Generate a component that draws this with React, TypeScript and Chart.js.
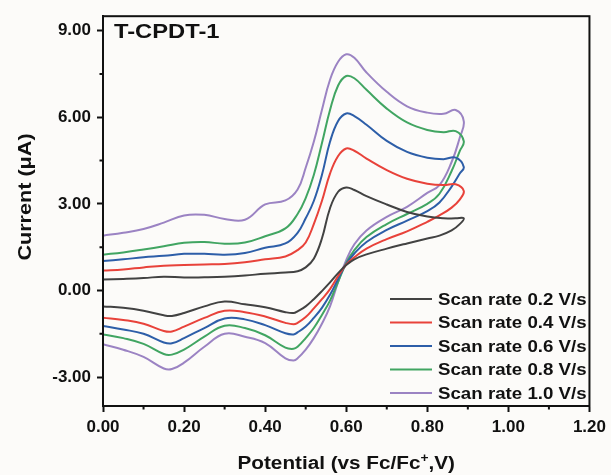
import React, { useEffect, useRef } from "react";
import { Chart, registerables } from "chart.js";

Chart.register(...registerables);

// Potentials (V vs Fc/Fc+) of the forward (anodic) and reverse (cathodic) sweeps
const forwardPotential = [0, 0.05, 0.1, 0.15, 0.2, 0.25, 0.3, 0.35, 0.4, 0.45, 0.48, 0.5, 0.52, 0.54, 0.56, 0.58, 0.6, 0.62, 0.65, 0.7, 0.75, 0.8, 0.84, 0.87, 0.89];
const reversePotential = [0.88, 0.86, 0.83, 0.8, 0.75, 0.7, 0.65, 0.62, 0.6, 0.58, 0.56, 0.54, 0.52, 0.5, 0.48, 0.47, 0.45, 0.4, 0.35, 0.3, 0.25, 0.2, 0.17, 0.15, 0.1, 0.05, 0];

// Currents (µA)
const rate02Forward = [0.38, 0.4, 0.43, 0.48, 0.45, 0.46, 0.48, 0.52, 0.58, 0.62, 0.67, 0.8, 1.1, 1.8, 2.85, 3.42, 3.57, 3.48, 3.27, 2.98, 2.72, 2.56, 2.5, 2.5, 2.5];
const rate02Reverse = [2.3, 2.08, 1.9, 1.8, 1.63, 1.45, 1.25, 1.08, 0.88, 0.6, 0.28, -0.02, -0.3, -0.55, -0.72, -0.78, -0.75, -0.58, -0.48, -0.38, -0.55, -0.78, -0.88, -0.86, -0.7, -0.6, -0.55];

const rate04Forward = [0.69, 0.73, 0.8, 0.86, 0.88, 0.9, 0.92, 0.98, 1.08, 1.18, 1.4, 1.66, 2.3, 3.1, 4.05, 4.66, 4.92, 4.84, 4.57, 4.17, 3.87, 3.7, 3.65, 3.68, 3.45];
const rate04Reverse = [3.15, 2.87, 2.6, 2.38, 2.05, 1.78, 1.45, 1.15, 0.9, 0.5, 0.05, -0.3, -0.62, -0.92, -1.12, -1.17, -1.12, -0.9, -0.75, -0.7, -0.95, -1.25, -1.42, -1.4, -1.15, -1.02, -0.94];

const rate06Forward = [1.02, 1.08, 1.15, 1.2, 1.27, 1.27, 1.24, 1.3, 1.48, 1.63, 2.0, 2.5, 3.1, 4.0, 5.15, 5.87, 6.13, 6.04, 5.74, 5.18, 4.8, 4.6, 4.55, 4.6, 4.28];
const rate06Reverse = [4.05, 3.6, 3.05, 2.75, 2.42, 2.1, 1.68, 1.28, 0.92, 0.4, -0.15, -0.6, -0.95, -1.25, -1.45, -1.52, -1.48, -1.2, -1.0, -0.97, -1.3, -1.65, -1.83, -1.8, -1.5, -1.35, -1.23];

const rate08Forward = [1.24, 1.32, 1.42, 1.53, 1.65, 1.68, 1.62, 1.66, 1.88, 2.15, 2.65, 3.2, 4.0, 5.1, 6.25, 7.1, 7.43, 7.35, 6.95, 6.3, 5.82, 5.56, 5.48, 5.52, 5.17];
const rate08Reverse = [4.83, 4.14, 3.35, 3.0, 2.65, 2.3, 1.85, 1.4, 0.95, 0.3, -0.35, -0.85, -1.3, -1.65, -1.95, -2.02, -1.98, -1.55, -1.3, -1.22, -1.6, -2.05, -2.22, -2.2, -1.85, -1.65, -1.52];

const rate10Forward = [1.9, 2.0, 2.13, 2.35, 2.6, 2.62, 2.48, 2.45, 2.98, 3.12, 3.5, 4.25, 5.15, 6.25, 7.3, 7.92, 8.18, 8.06, 7.55, 6.88, 6.38, 6.16, 6.12, 6.25, 5.86];
const rate10Reverse = [5.29, 4.45, 3.65, 3.38, 2.9, 2.55, 2.08, 1.6, 1.05, 0.3, -0.55, -1.15, -1.65, -2.05, -2.35, -2.42, -2.35, -1.82, -1.6, -1.5, -1.95, -2.5, -2.72, -2.7, -2.3, -2.05, -1.86];

const seriesLabels = ["Scan rate 0.2 V/s", "Scan rate 0.4 V/s", "Scan rate 0.6 V/s", "Scan rate 0.8 V/s", "Scan rate 1.0 V/s"];
const seriesColors = ["#424242", "#e8423a", "#2d5ea8", "#41a562", "#9b83c3"];

const xTicks = [0, 0.2, 0.4, 0.6, 0.8, 1.0, 1.2];
const xMinorTicks = [0.1, 0.3, 0.5, 0.7, 0.9, 1.1];
const yTicks = [-3, 0, 3, 6, 9];
const yMinorTicks = [-1.5, 1.5, 4.5, 7.5];

const chartTitle = "T-CPDT-1";
const FONT = "'Liberation Sans', Arial, sans-serif";

function loop(fy: number[], ry: number[]) {
  const pts: { x: number; y: number }[] = [];
  forwardPotential.forEach((x, i) => pts.push({ x, y: fy[i] }));
  reversePotential.forEach((x, i) => pts.push({ x, y: ry[i] }));
  return pts;
}

function wideText(ctx: any, text: string, x: number, y: number, sx: number) {
  ctx.save();
  ctx.translate(x, y);
  ctx.scale(sx, 1);
  ctx.fillText(text, 0, 0);
  ctx.restore();
}

const decorPlugin = {
  id: "decor",
  beforeDraw(chart: any) {
    const ctx = chart.ctx;
    ctx.save();
    ctx.fillStyle = "#fcfbf9";
    ctx.fillRect(0, 0, chart.width, chart.height);
    ctx.restore();
  },
  afterDraw(chart: any) {
    const ctx = chart.ctx;
    const a = chart.chartArea;
    const xs = chart.scales.x;
    const ys = chart.scales.y;
    ctx.save();
    // frame
    ctx.strokeStyle = "#111";
    ctx.lineWidth = 2;
    ctx.strokeRect(a.left, a.top, a.right - a.left, a.bottom - a.top);
    // minor ticks
    ctx.beginPath();
    xMinorTicks.forEach((v) => {
      const px = xs.getPixelForValue(v);
      ctx.moveTo(px, a.bottom);
      ctx.lineTo(px, a.bottom + 3.5);
    });
    yMinorTicks.forEach((v) => {
      const py = ys.getPixelForValue(v);
      ctx.moveTo(a.left, py);
      ctx.lineTo(a.left - 3.5, py);
    });
    ctx.stroke();

    // title
    ctx.fillStyle = "#111";
    ctx.font = `bold 21px ${FONT}`;
    ctx.textAlign = "left";
    ctx.textBaseline = "alphabetic";
    wideText(ctx, chartTitle, a.left + 11, a.top + 22, 1.13);

    // legend
    ctx.font = `bold 17px ${FONT}`;
    ctx.textBaseline = "middle";
    chart.data.datasets.forEach((ds: any, i: number) => {
      const y = 299 + i * 23.5;
      ctx.strokeStyle = ds.borderColor;
      ctx.lineWidth = 2;
      ctx.beginPath();
      ctx.moveTo(390, y);
      ctx.lineTo(432, y);
      ctx.stroke();
      ctx.fillStyle = "#111";
      wideText(ctx, ds.label, 438, y + 1, 1.1);
    });

    // x axis title with superscript
    const SX = 1.15;
    const p1 = "Potential (vs Fc/Fc";
    const p2 = "+";
    const p3 = ",V)";
    ctx.font = `bold 18px ${FONT}`;
    const w1 = ctx.measureText(p1).width * SX;
    const w3 = ctx.measureText(p3).width * SX;
    ctx.font = `bold 12px ${FONT}`;
    const w2 = ctx.measureText(p2).width * SX;
    const total = w1 + w2 + w3;
    let sx = (a.left + a.right) / 2 - total / 2;
    const by = 469;
    ctx.textBaseline = "alphabetic";
    ctx.font = `bold 18px ${FONT}`;
    wideText(ctx, p1, sx, by, SX);
    sx += w1;
    ctx.font = `bold 12px ${FONT}`;
    wideText(ctx, p2, sx, by - 7, SX);
    sx += w2;
    ctx.font = `bold 18px ${FONT}`;
    wideText(ctx, p3, sx, by, SX);

    // y axis title
    ctx.save();
    ctx.translate(31, 197);
    ctx.rotate(-Math.PI / 2);
    ctx.textAlign = "center";
    ctx.font = `bold 18px ${FONT}`;
    wideText(ctx, "Current (\u03bcA)", 0, 0, 1.2);
    ctx.restore();

    ctx.restore();
  },
};

export default function App() {
  const ref = useRef<HTMLCanvasElement | null>(null);
  useEffect(() => {
    if (!ref.current) return;
    const forwards = [rate02Forward, rate04Forward, rate06Forward, rate08Forward, rate10Forward];
    const reverses = [rate02Reverse, rate04Reverse, rate06Reverse, rate08Reverse, rate10Reverse];
    const chart = new Chart(ref.current, {
      type: "scatter",
      data: {
        datasets: seriesLabels.map((label, i) => ({
          label,
          data: loop(forwards[i], reverses[i]),
          showLine: true,
          borderColor: seriesColors[i],
          backgroundColor: seriesColors[i],
          borderWidth: 2,
          pointRadius: 0,
          tension: 0.42,
          fill: false,
        })),
      },
      options: {
        animation: false,
        responsive: false,
        devicePixelRatio: 1,
        layout: { padding: { left: 0, right: 20, top: 14, bottom: 0 } },
        plugins: { legend: { display: false }, tooltip: { enabled: false }, title: { display: false } },
        scales: {
          x: {
            type: "linear",
            min: 0,
            max: 1.2,
            afterFit: (s: any) => { s.height = 69; },
            afterBuildTicks: (s: any) => { s.ticks = xTicks.map((v) => ({ value: v })); },
            grid: { drawOnChartArea: false, drawTicks: true, tickLength: 6, tickWidth: 2, tickColor: "#111" },
            border: { display: true, color: "#111", width: 2 },
            ticks: {
              padding: 5,
              color: "#111",
              font: { family: FONT, size: 17, weight: "bold" },
              callback: (v: any) => Number(v).toFixed(2),
              maxRotation: 0,
            },
          },
          y: {
            type: "linear",
            min: -4,
            max: 9.5,
            afterFit: (s: any) => { s.width = 103; },
            afterBuildTicks: (s: any) => { s.ticks = yTicks.map((v) => ({ value: v })); },
            grid: { drawOnChartArea: false, drawTicks: true, tickLength: 6, tickWidth: 2, tickColor: "#111" },
            border: { display: true, color: "#111", width: 2 },
            ticks: {
              padding: 6,
              color: "#111",
              font: { family: FONT, size: 17, weight: "bold" },
              callback: (v: any) => Number(v).toFixed(2),
            },
          },
        },
      },
      plugins: [decorPlugin],
    } as any);
    return () => chart.destroy();
  }, []);
  return (
    <div style={{ position: "absolute", left: 0, top: 0, width: 611, height: 475 }}>
      <canvas ref={ref} width={611} height={475} style={{ display: "block" }} />
    </div>
  );
}
